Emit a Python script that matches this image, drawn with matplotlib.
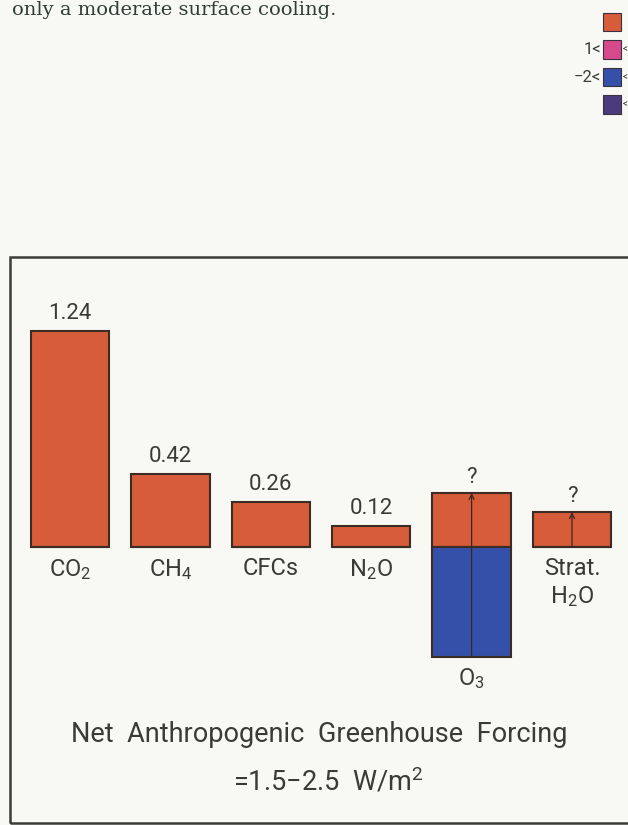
import numpy as np
import matplotlib
matplotlib.use('Agg')
import matplotlib.pyplot as plt
from matplotlib.patches import Rectangle

plt.rcParams['font.family'] = ['Roboto', 'DejaVu Sans']
plt.rcParams['mathtext.fontset'] = 'custom'
plt.rcParams['mathtext.rm'] = 'Roboto'
plt.rcParams['mathtext.it'] = 'Roboto'

# data (W/m^2)
gases = ['CO$_2$', 'CH$_4$', 'CFCs', 'N$_2$O', 'O$_3$', 'Strat.\nH$_2$O']
warming = [1.24, 0.42, 0.26, 0.12, 0.31, 0.20]
cooling = [0.0, 0.0, 0.0, 0.0, -0.63, 0.0]
value_labels = ['1.24', '0.42', '0.26', '0.12', '?', '?']
uncertain = [False, False, False, False, True, True]

legend_labels = ['', '1<', '\u22122<', '']
legend_colors = ['#d65c3a', '#d64a8c', '#3550a8', '#4a3b7c']

orange = '#d65c3a'
blue = '#3550a8'
edge = '#3c2c24'
ink = '#3a3a36'

W, H = 628, 825
fig = plt.figure(figsize=(W / 100, H / 100), dpi=100)
fig.patch.set_facecolor('#f8f8f5')


def fx(px):
    return px / W


def fy(py):
    return 1 - py / H


# axes span the whole figure, scaled so the bars land where they are in the scan
px_per_cat, x0 = 100.4, 70
px_per_unit, y0 = 174.0, 547
ax = fig.add_axes([0, 0, 1, 1])
ax.set_xlim(-x0 / px_per_cat, (W - x0) / px_per_cat)
ax.set_ylim(-(H - y0) / px_per_unit, y0 / px_per_unit)
ax.axis('off')

x = np.arange(len(gases))
ax.bar(x, warming, width=0.78, color=orange, edgecolor=edge, linewidth=1.5, zorder=2)
ax.bar(x, cooling, width=0.78, color=blue, edgecolor=edge, linewidth=1.5, zorder=2)

for xi, top, bot, lab, unc, name in zip(x, warming, cooling, value_labels, uncertain, gases):
    ax.annotate(lab, (xi, top), xytext=(0, 4 if unc else 5), textcoords='offset points',
                ha='center', va='bottom', fontsize=16, color=ink)
    ax.annotate(name, (xi, bot), xytext=(0, -7), textcoords='offset points',
                ha='center', va='top', fontsize=17, color=ink, linespacing=1.25)
    if unc:
        ax.annotate('', xy=(xi, top), xytext=(xi, bot),
                    arrowprops=dict(arrowstyle='->', lw=0.9, color='#3a2622',
                                    shrinkA=0, shrinkB=0, mutation_scale=9), zorder=3)

ax.text(fx(319), fy(742), 'Net  Anthropogenic  Greenhouse  Forcing', transform=fig.transFigure,
        ha='center', va='baseline', fontsize=19.5, color=ink)
ax.text(fx(328), fy(790), '=1.5\u22122.5  W/m$^2$', transform=fig.transFigure,
        ha='center', va='baseline', fontsize=19.5, color=ink)

# frame around the panel (right side runs off the page)
fig.add_artist(Rectangle((fx(10), fy(823)), fx(700) - fx(10), fy(257) - fy(823),
                         transform=fig.transFigure, fill=False, edgecolor='#3b3b38', lw=1.8))

# caption line at the top of the scan
fig.text(fx(12), fy(15), 'only a moderate surface cooling.', family='DejaVu Serif',
         fontsize=14, color='#2f3e38', ha='left', va='baseline')

# legend squares at the right edge
for i, (lab, col) in enumerate(zip(legend_labels, legend_colors)):
    top = 13 + i * 27.5
    fig.add_artist(Rectangle((fx(603), fy(top + 18)), fx(18), 18 / H, transform=fig.transFigure,
                             facecolor=col, edgecolor='#3a3040', lw=0.8))
    if lab:
        fig.text(fx(601), fy(top + 9), lab, ha='right', va='center', fontsize=12, color=ink)
    if i > 0:
        fig.text(fx(627.5), fy(top + 9), '<', ha='right', va='center', fontsize=7, color=ink)

fig.savefig('out.png', dpi=100, facecolor=fig.get_facecolor())
